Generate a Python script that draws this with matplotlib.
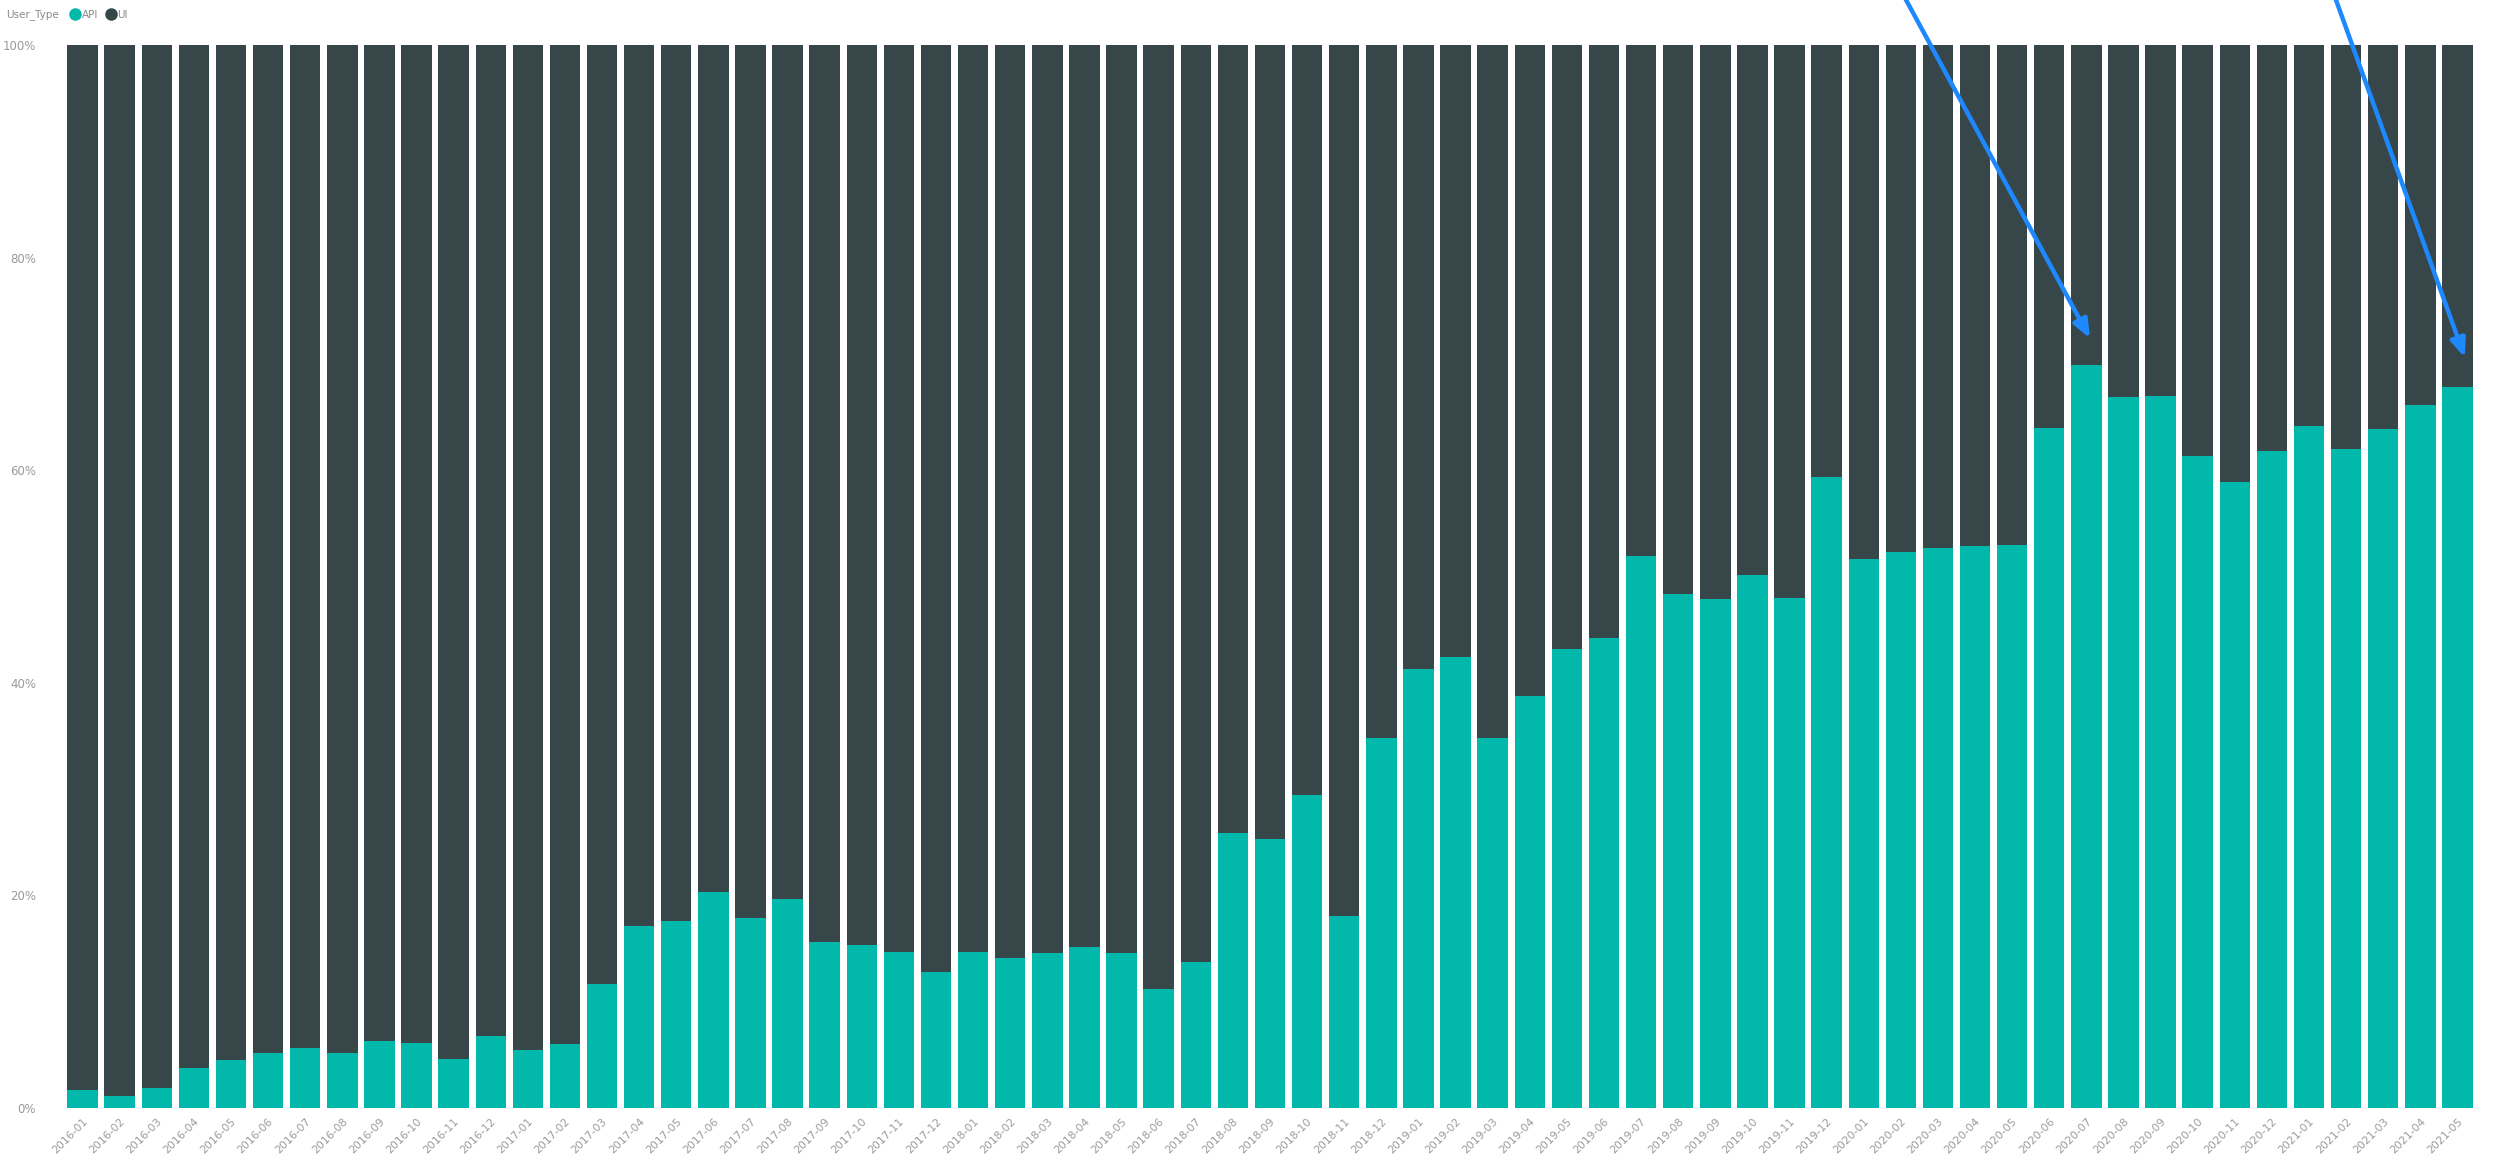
import matplotlib
matplotlib.use("Agg")
import matplotlib.pyplot as plt
from matplotlib.lines import Line2D
from matplotlib.ticker import FuncFormatter
import numpy as np
import pandas as pd

# Monthly share of requests by user type (percent)
months = [p.strftime("%Y-%m") for p in pd.period_range("2016-01", "2021-05", freq="M")]
api_share = [1.7, 1.1, 1.9, 3.8, 4.5, 5.2, 5.6, 5.2, 6.3, 6.1,
             4.6, 6.8, 5.5, 6.0, 11.7, 17.1, 17.6, 20.3, 17.9, 19.7,
             15.6, 15.3, 14.7, 12.8, 14.7, 14.1, 14.6, 15.1, 14.6, 11.2,
             13.7, 25.9, 25.3, 29.4, 18.1, 34.8, 41.3, 42.4, 34.8, 38.8,
             43.2, 44.2, 51.9, 48.4, 47.9, 50.1, 48.0, 59.4, 51.6, 52.3,
             52.7, 52.9, 53.0, 64.0, 69.9, 66.9, 67.0, 61.3, 58.9, 61.8,
             64.2, 62.0, 63.9, 66.1, 67.8]
ui_share = [100 - v for v in api_share]

series_names = ["API", "UI"]
colors = ["#01B8AA", "#374649"]
y_ticks = [0, 20, 40, 60, 80, 100]

W, H = 2496, 1160
fig = plt.figure(figsize=(W / 100, H / 100), dpi=100)
fig.patch.set_facecolor("white")
ax = fig.add_axes([64 / W, (H - 1108) / H, (2476 - 64) / W, (1108 - 45) / H])

x = np.arange(len(months))
ax.bar(x, api_share, width=0.82, color=colors[0], linewidth=0)
ax.bar(x, ui_share, width=0.82, bottom=api_share, color=colors[1], linewidth=0)

ax.set_xlim(-0.5, len(months) - 0.5)
ax.set_ylim(0, 100)
ax.set_yticks(y_ticks)
ax.yaxis.set_major_formatter(FuncFormatter(lambda v, _: f"{v:.0f}%"))
ax.set_xticks(x)
ax.set_xticklabels(months, rotation=45, ha="right", rotation_mode="anchor")
ax.tick_params(axis="both", length=0, labelcolor="#9a9a9a")
ax.tick_params(axis="y", pad=20, labelsize=8.5)
ax.tick_params(axis="x", pad=6, labelsize=7.8)
for s in ax.spines.values():
    s.set_visible(False)

# Legend line at the top left
fig.text(6 / W, 1 - 15 / H, "User_Type", fontsize=7.5, color="#8a8a8a", va="center", ha="left")
handles = [Line2D([0], [0], marker="o", linestyle="", markersize=8,
                  markerfacecolor=c, markeredgecolor=c, label=n)
           for n, c in zip(series_names, colors)]
fig.legend(handles=handles, loc="center left", bbox_to_anchor=(66 / W, 1 - 15 / H),
           ncol=2, frameon=False, fontsize=7.5, labelcolor="#8a8a8a",
           handletextpad=0.1, columnspacing=0.7, borderaxespad=0, handlelength=1.0)

# Callout arrows pointing at two months
arrow_style = dict(arrowstyle="-|>,head_length=1.1,head_width=0.45", color="#1E88FF", lw=3.2,
                   shrinkA=0, shrinkB=0)
ax.annotate("", xy=(54.1, 72.4), xytext=(49.1, 104.5), arrowprops=arrow_style,
            annotation_clip=False)
ax.annotate("", xy=(64.2, 70.6), xytext=(60.7, 104.5), arrowprops=arrow_style,
            annotation_clip=False)

fig.savefig("out.png", dpi=100, facecolor="white")
